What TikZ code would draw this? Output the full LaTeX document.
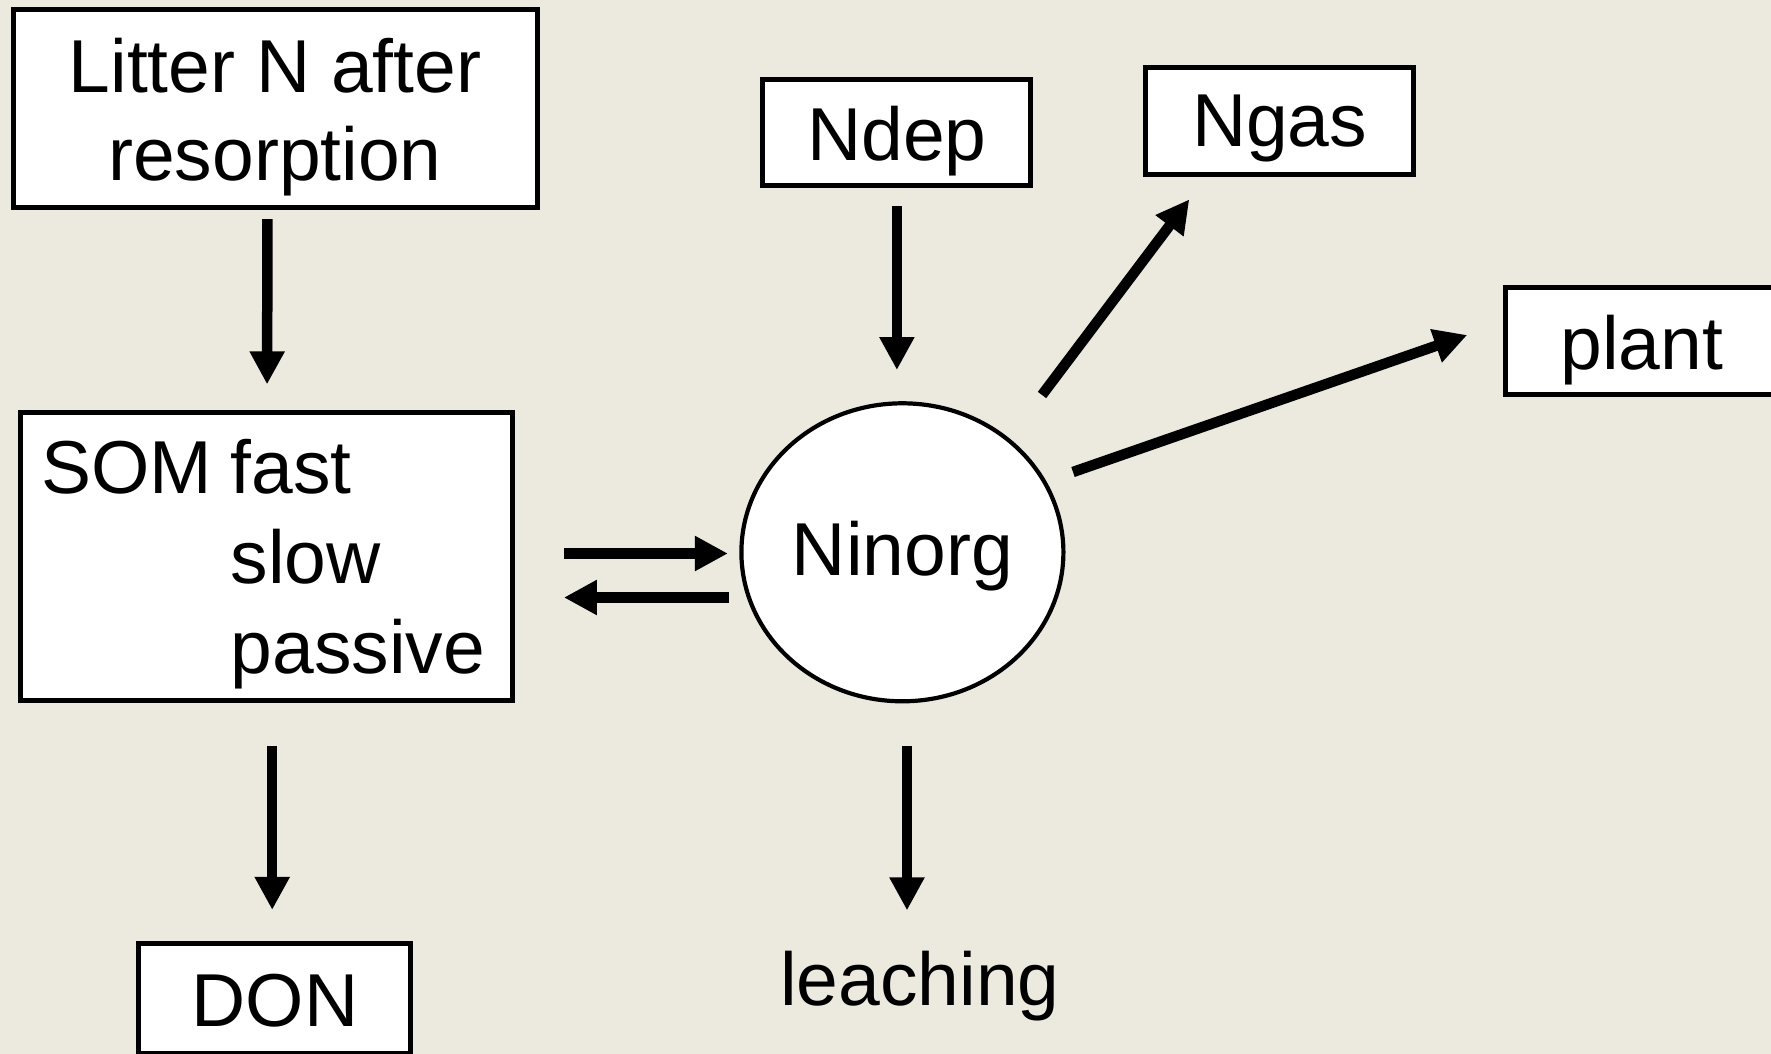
\documentclass[tikz,border=0pt]{standalone}
\usepackage{fontspec}
\setmainfont{Liberation Sans}
\usetikzlibrary{arrows.meta,shapes.geometric}
\definecolor{bgc}{RGB}{236,233,223}
\begin{document}
\begin{tikzpicture}[x=1pt,y=-1pt,
  every node/.style={font=\fontsize{75}{88}\selectfont, outer sep=0pt},
  box/.style={draw, line width=5pt, fill=white, rectangle, inner sep=0pt},
  arr/.style={line width=10.5pt, -{Triangle[width=33pt,length=33pt]}},
]
\fill[bgc] (0,0) rectangle (1771,1054);
\useasboundingbox (0,0) rectangle (1771,1054);

\node[box, minimum width=524pt, minimum height=197pt, text height=0pt, text depth=31.8pt] (litter) at (275,108.5)
  {\begin{tabular}[t]{@{}c@{}}Litter N after\\resorption\end{tabular}};
\node[box, font=\fontsize{75}{90}\selectfont, minimum width=492pt, minimum height=288pt, text height=0pt, text depth=126.4pt] (som) at (266.5,556.8)
  {\begin{tabular}[t]{@{}l@{}l@{\hspace{7pt}}}\makebox[189.7pt][l]{SOM}&fast\\&slow\\&passive\end{tabular}};
\node[box, minimum width=268pt, minimum height=106pt, text height=55.4pt, text depth=0pt] (ndep) at (896.9,132.7) {Ndep};
\node[box, minimum width=268pt, minimum height=107pt, text height=51.8pt, text depth=0pt] (ngas) at (1279.6,120.9) {Ngas};
\node[box, minimum width=272pt, minimum height=107pt, text height=55.6pt, text depth=0pt] (plant) at (1641.8,341.2) {plant};
\node[box, minimum width=272pt, minimum height=110pt, text height=54.6pt, text depth=0pt] (don) at (274.9,998.7) {DON};
\node[draw, ellipse, line width=4.2pt, fill=white, inner sep=0pt, minimum width=322pt, minimum height=298pt, text height=46.4pt, text depth=0pt] (ninorg) at (902.4,552.3) {Ninorg};
\node[inner sep=0pt, text height=55pt, text depth=0pt, anchor=base] (leach) at (920,1005.3) {leaching};

\coordinate (s1) at ([shift={(0,-3.3)}]som.east);
\coordinate (s2) at ([shift={(0,40.7)}]som.east);

\draw[arr, shorten <=12.2pt, shorten >=28.4pt] ([xshift=-7.5pt]litter.south) -- ([xshift=0.5pt]som.north);
\draw[arr, shorten <=20.3pt, shorten >=33.3pt] (ndep.south) -- (ndep.south |- ninorg.north);
\draw[arr, shorten <=45.3pt, shorten >=33.8pt] ([xshift=5.7pt]som.south) -- ([xshift=-2.7pt]don.north);
\draw[arr, shorten <=44.7pt, shorten >=39.9pt] ([xshift=4.6pt]ninorg.south) -- ([xshift=-13pt]leach.north);
\draw[arr, shorten <=51.4pt, shorten >=13.5pt] (s1) -- (s1 -| ninorg.west);
\draw[arr, shorten <=12.5pt, shorten >=51.4pt] (s2 -| ninorg.west) -- (s2);
\draw[arr] ([shift={(139.6,-157.3)}]ninorg.center) -- ([shift={(43.7,25)}]ngas.south west);
\draw[arr] ([shift={(170.6,-80.3)}]ninorg.center) -- ([shift={(-38.6,-6.2)}]plant.west);
\end{tikzpicture}
\end{document}
